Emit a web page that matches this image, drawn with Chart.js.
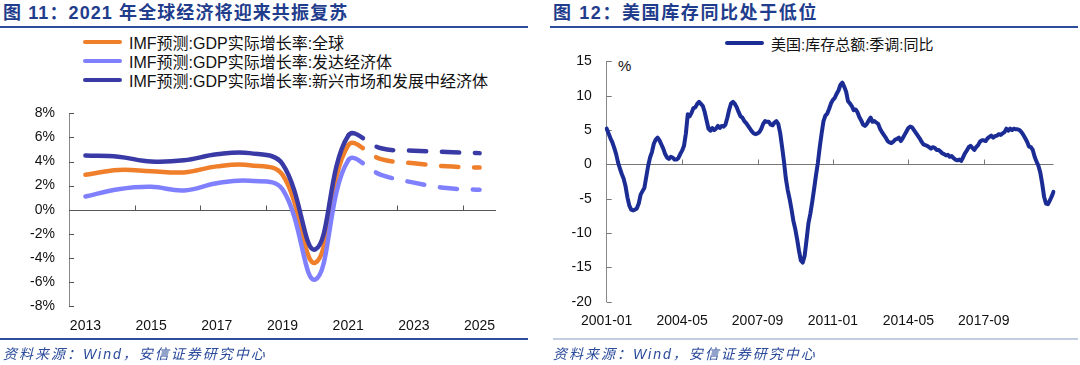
<!DOCTYPE html>
<html>
<head>
<meta charset="utf-8">
<script src="https://cdn.jsdelivr.net/npm/chart.js@4.4.0/dist/chart.umd.min.js"></script>
<style>
  body { margin: 0; background: #fff; width: 1080px; height: 365px; position: relative; overflow: hidden;
         font-family: "Liberation Sans", "Noto Sans CJK SC", sans-serif; }
  .abs { position: absolute; }
  .title { font-size: 18px; font-weight: bold; color: #1f3d8c; line-height: 22px; white-space: nowrap; }
  .rule { height: 2px; background: #2d4c9c; }
  .legend { font-size: 15px; color: #111; white-space: nowrap; }
  .legend .row { display: flex; align-items: center; height: 19.2px; }
  .legend .swatch { display: inline-block; width: 39px; height: 4px; margin-right: 7px; border-radius: 2px; }
  .source { font-size: 14px; font-style: italic; color: #2a4a9a; white-space: nowrap; letter-spacing: 2px; }
</style>
</head>
<body>

<div class="abs title" style="left:3px; top:2px; letter-spacing:1.1px;">图 11：2021 年全球经济将迎来共振复苏</div>
<div class="abs rule" style="left:0; top:26px; width:528px;"></div>
<div class="abs legend" id="legendLeft" style="left:83px; top:32px; font-size:16px;"></div>
<canvas id="chartLeft" class="abs" width="540" height="254" style="left:0; top:91px;"></canvas>
<div class="abs rule" style="left:0; top:338px; width:528px;"></div>
<div class="abs source" style="left:3px; top:343px;">资料来源：Wind，安信证券研究中心</div>

<div class="abs title" style="left:553px; top:2px; letter-spacing:1.6px;">图 12：美国库存同比处于低位</div>
<div class="abs rule" style="left:550px; top:26px; width:528px;"></div>
<div class="abs legend" id="legendRight" style="left:725px; top:33.5px;"></div>
<div class="abs legend" style="left:618px; top:57px;">%</div>
<canvas id="chartRight" class="abs" width="540" height="307" style="left:540px; top:38px;"></canvas>
<div class="abs rule" style="left:553px; top:338px; width:525px; background:#c3cce2;"></div>
<div class="abs source" style="left:553px; top:343px;">资料来源：Wind，安信证券研究中心</div>

<script>
// ---- left: IMF GDP growth forecasts (%)
var years = ['2013', '2014', '2015', '2016', '2017', '2018', '2019', '2020', '2021', '2022', '2023', '2024', '2025'];
var worldGrowth = [2.9, 3.3, 3.2, 3.1, 3.6, 3.7, 2.9, -4.4, 5.35, 4.2, 3.85, 3.6, 3.5];
var advancedGrowth = [1.1, 1.7, 1.9, 1.6, 2.2, 2.4, 1.7, -5.8, 4.1, 2.9, 2.25, 1.8, 1.65];
var emergingGrowth = [4.5, 4.4, 4.0, 4.1, 4.6, 4.7, 3.8, -3.3, 6.15, 5.1, 4.9, 4.8, 4.7];
var forecastFrom = 8; // 2021 onwards dashed
var leftTicks = [-8, -6, -4, -2, 0, 2, 4, 6, 8];

// ---- right: US total business inventories, SA, YoY (%), monthly from 2001-01
var startYear = 2001;
var inventoryYoY = [
  5.2, 4.5, 3.8, 3.2, 2.4, 1.5, 0.3, -0.6, -1.4, -2.1, -3.2, -4.8,
  -6.0, -6.6, -6.7, -6.6, -6.4, -5.7, -4.4, -3.9, -3.4, -1.8, -0.2, 1.0,
  1.8, 3.0, 3.6, 3.9, 3.5, 2.9, 2.3, 1.5, 1.0, 0.8, 1.1, 1.0,
  0.7, 0.7, 0.9, 1.5, 2.0, 2.7, 4.5, 7.3, 7.0, 7.5, 8.2, 8.3,
  8.8, 9.1, 8.8, 8.5, 7.6, 6.4, 5.2, 4.9, 5.3, 5.0, 5.2, 5.6,
  5.3, 5.6, 5.5, 5.8, 6.8, 8.0, 8.9, 9.1, 8.8, 8.3, 7.6, 7.0,
  6.8, 6.3, 6.0, 5.6, 5.2, 4.8, 4.5, 4.4, 4.5, 4.7, 5.2, 5.9,
  6.3, 6.2, 6.2, 5.8, 5.7, 6.1, 6.3, 5.9, 4.6, 2.6, 0.5, -2.0,
  -3.7, -5.0, -6.5, -8.2, -9.4, -10.9, -12.6, -14.0, -14.3, -13.3, -11.0, -8.6,
  -7.2, -5.5, -3.6, -1.6, 0.2, 2.5, 4.5, 6.3, 7.1, 7.4, 8.1, 8.9,
  9.4, 9.7, 10.3, 10.8, 11.6, 11.9, 11.3, 10.6, 9.2, 8.9, 8.5, 7.9,
  8.0, 7.6, 6.9, 6.4, 5.8, 5.6, 5.9, 6.4, 6.8, 6.2, 6.3, 6.1,
  5.9, 5.2, 4.7, 4.3, 3.9, 3.4, 3.2, 3.1, 3.3, 3.6, 3.7, 3.9,
  3.4, 3.8, 4.3, 4.8, 5.3, 5.5, 5.4, 5.0, 4.6, 4.2, 3.8, 3.3,
  2.9, 2.8, 2.7, 2.5, 2.3, 2.5, 2.4, 2.1, 2.1, 1.9, 1.6, 1.5,
  1.3, 1.4, 1.1, 1.2, 0.9, 0.7, 0.6, 0.7, 0.5, 1.0, 1.6, 2.0,
  2.5, 2.7, 2.4, 2.1, 2.5, 2.8, 3.3, 3.5, 3.5, 3.4, 3.8, 4.0,
  4.2, 3.9, 4.1, 4.2, 4.4, 4.3, 4.5, 4.7, 5.2, 4.9, 5.2, 5.0,
  5.2, 5.1, 5.1, 5.0, 4.7, 4.3, 3.8, 3.3, 2.6, 2.5, 2.1, 1.1,
  0.4, -0.2, -1.2, -2.8, -4.7, -5.7, -5.8, -5.3, -4.7, -4.0
];
var labelEvery = 40; // months between x labels
var rightTicks = [-20, -15, -10, -5, 0, 5, 10, 15];

var months = [];
for (var i = 0; i < inventoryYoY.length; i++) {
  var y = startYear + Math.floor(i / 12), m = i % 12 + 1;
  months.push(y + '-' + (m < 10 ? '0' + m : m));
}

var fontFamily = '"Liberation Sans", "Noto Sans CJK SC", sans-serif';
Chart.defaults.font.family = fontFamily;
Chart.defaults.font.size = 14;
Chart.defaults.color = '#111';

// zero line, small tick marks on it, inward y ticks
var axisMarks = {
  id: 'axisMarks',
  beforeDatasetsDraw: function (chart, args, opts) {
    var ctx = chart.ctx, area = chart.chartArea, x = chart.scales.x, y = chart.scales.y;
    var y0 = Math.round(y.getPixelForValue(0)) + 0.5;
    ctx.save();
    ctx.strokeStyle = opts.color;
    ctx.lineWidth = 1;
    ctx.beginPath();
    ctx.moveTo(area.left, y0);
    ctx.lineTo(area.right, y0);
    opts.xMarks(x).forEach(function (px) {
      px = Math.round(px) + 0.5;
      ctx.moveTo(px, y0);
      ctx.lineTo(px, y0 - 5);
    });
    y.ticks.forEach(function (t) {
      var py = Math.round(y.getPixelForValue(t.value)) + 0.5;
      ctx.moveTo(area.left, py);
      ctx.lineTo(area.left + 5, py);
    });
    ctx.stroke();
    ctx.restore();
  }
};

function buildLegend(id, datasets) {
  var box = document.getElementById(id);
  datasets.forEach(function (ds) {
    var row = document.createElement('div');
    row.className = 'row';
    var sw = document.createElement('span');
    sw.className = 'swatch';
    sw.style.background = ds.borderColor;
    row.appendChild(sw);
    row.appendChild(document.createTextNode(ds.label));
    box.appendChild(row);
  });
}

function growthSeries(label, data, color) {
  return {
    label: label,
    data: data,
    borderColor: color,
    backgroundColor: color,
    borderWidth: 4.5,
    borderCapStyle: 'round',
    borderJoinStyle: 'round',
    pointRadius: 0,
    tension: 0.4,
    fill: false,
    segment: {
      borderDash: function (c) { return c.p0DataIndex >= forecastFrom ? [17, 16] : undefined; }
    }
  };
}

var leftSets = [
  growthSeries('IMF预测:GDP实际增长率:全球', worldGrowth, '#f07f2c'),
  growthSeries('IMF预测:GDP实际增长率:发达经济体', advancedGrowth, '#8080ff'),
  growthSeries('IMF预测:GDP实际增长率:新兴市场和发展中经济体', emergingGrowth, '#3a3aa6')
];
buildLegend('legendLeft', leftSets);

new Chart(document.getElementById('chartLeft'), {
  type: 'line',
  data: { labels: years, datasets: leftSets.slice().reverse() },
  options: {
    responsive: false,
    animation: false,
    layout: { padding: { top: 0, right: 44, bottom: 9, left: 0 } },
    plugins: {
      legend: { display: false },
      tooltip: { enabled: false },
      axisMarks: {
        color: '#555',
        xMarks: function (x) {
          var out = [];
          for (var k = 2; k < years.length; k += 2) {
            out.push((x.getPixelForValue(k - 1) + x.getPixelForValue(k)) / 2);
          }
          return out;
        }
      }
    },
    scales: {
      x: {
        offset: true,
        grid: { display: false, drawTicks: false },
        border: { display: false },
        ticks: {
          autoSkip: false, maxRotation: 0, minRotation: 0, padding: 12,
          callback: function (v, i) { return i % 2 === 0 ? this.getLabelForValue(v) : ''; }
        },
        afterFit: function (s) { s.height = 30; }
      },
      y: {
        min: -8, max: 8,
        afterBuildTicks: function (s) { s.ticks = leftTicks.map(function (v) { return { value: v }; }); },
        grid: { display: false, drawTicks: false },
        border: { display: true, color: '#888', width: 1 },
        ticks: { padding: 14, callback: function (v) { return v + '%'; } },
        afterFit: function (s) { s.width = 69; }
      }
    }
  },
  plugins: [axisMarks]
});

var rightSets = [{
  label: '美国:库存总额:季调:同比',
  data: inventoryYoY,
  borderColor: '#1b2d94',
  backgroundColor: '#1b2d94',
  borderWidth: 4,
  borderJoinStyle: 'round',
  borderCapStyle: 'round',
  pointRadius: 0,
  tension: 0,
  fill: false
}];
buildLegend('legendRight', rightSets);

new Chart(document.getElementById('chartRight'), {
  type: 'line',
  data: { labels: months, datasets: rightSets },
  options: {
    responsive: false,
    animation: false,
    layout: { padding: { top: 0, right: 26.5, bottom: 13.3, left: 0 } },
    plugins: {
      legend: { display: false },
      tooltip: { enabled: false },
      axisMarks: {
        color: '#777',
        xMarks: function (x) {
          var out = [];
          for (var k = labelEvery; k < months.length; k += labelEvery) out.push(x.getPixelForValue(k));
          return out;
        }
      }
    },
    scales: {
      x: {
        offset: false,
        grid: { display: false, drawTicks: false },
        border: { display: false },
        ticks: {
          autoSkip: false, maxRotation: 0, minRotation: 0, padding: 11,
          callback: function (v, i) { return i % labelEvery === 0 ? this.getLabelForValue(v) : ''; }
        },
        afterFit: function (s) { s.height = 30; }
      },
      y: {
        min: -20, max: 15,
        afterBuildTicks: function (s) { s.ticks = rightTicks.map(function (v) { return { value: v }; }); },
        grid: { display: false, drawTicks: false },
        border: { display: true, color: '#888', width: 1 },
        ticks: { padding: 15 },
        afterFit: function (s) { s.width = 66.7; }
      }
    }
  },
  plugins: [axisMarks]
});
</script>
</body>
</html>
